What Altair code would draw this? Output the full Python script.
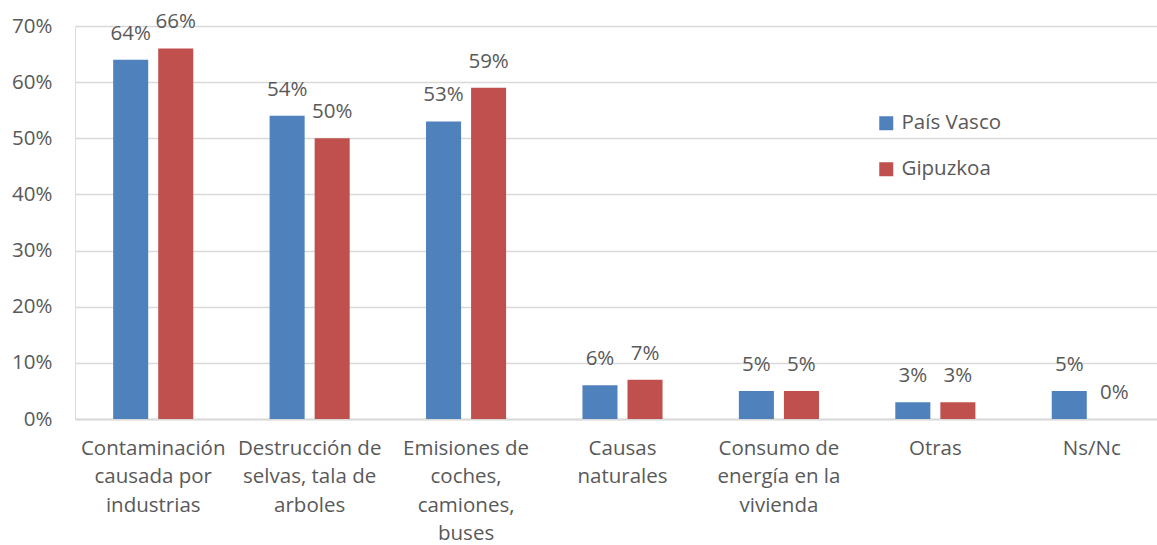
import altair as alt
import pandas as pd

categories = [
    "Contaminación\ncausada por\nindustrias",
    "Destrucción de\nselvas, tala de\narboles",
    "Emisiones de\ncoches,\ncamiones,\nbuses",
    "Causas\nnaturales",
    "Consumo de\nenergía en la\nvivienda",
    "Otras",
    "Ns/Nc",
]
series = ["País Vasco", "Gipuzkoa"]
pais_vasco = [0.64, 0.54, 0.53, 0.06, 0.05, 0.03, 0.05]
gipuzkoa = [0.66, 0.50, 0.59, 0.07, 0.05, 0.03, 0.00]
colors = ["#4F81BD", "#C0504D"]

rows = []
for i, c in enumerate(categories):
    rows.append({"cat": c, "serie": series[0], "value": pais_vasco[i]})
    rows.append({"cat": c, "serie": series[1], "value": gipuzkoa[i]})
df = pd.DataFrame(rows)

FONT = "Open Sans"
FS = 20.5
TXT = "#595959"

# category bands run slightly past the right edge of the gridlines
x = alt.X(
    "cat:N",
    sort=categories,
    title=None,
    scale=alt.Scale(range=[0, 1095], paddingInner=0.488, paddingOuter=0.244),
    axis=alt.Axis(
        labelExpr="split(datum.label, '\\n')",
        labelAngle=0,
        labelFontSize=FS,
        labelFont=FONT,
        labelColor=TXT,
        labelLineHeight=28.5,
        labelPadding=19,
        ticks=False,
        domainColor="#D9D9D9",
        domainWidth=2,
        grid=False,
        labelLimit=200,
    ),
)
xoff = alt.XOffset(
    "serie:N",
    sort=series,
    scale=alt.Scale(paddingInner=0.222, paddingOuter=0),
)
y = alt.Y(
    "value:Q",
    title=None,
    scale=alt.Scale(domain=[0, 0.7], nice=False),
    axis=alt.Axis(
        values=[0, 0.1, 0.2, 0.3, 0.4, 0.5, 0.6, 0.7],
        format=".0%",
        labelFontSize=FS,
        labelFont=FONT,
        labelColor=TXT,
        labelPadding=23,
        ticks=False,
        domain=False,
        gridColor="#D9D9D9",
        gridWidth=1.5,
    ),
)
color = alt.Color(
    "serie:N",
    sort=series,
    scale=alt.Scale(domain=series, range=colors),
    legend=alt.Legend(
        title=None,
        orient="none",
        legendX=801,
        legendY=87,
        symbolType="square",
        symbolSize=196,
        symbolStrokeWidth=0,
        labelFontSize=FS,
        labelFont=FONT,
        labelColor=TXT,
        rowPadding=25,
        labelOffset=5,
    ),
)

bars = alt.Chart(df).mark_bar().encode(x=x, xOffset=xoff, y=y, color=color)
labels = alt.Chart(df).mark_text(
    dy=-26, fontSize=FS, font=FONT, color=TXT
).encode(
    x=x, xOffset=xoff, y=y, text=alt.Text("value:Q", format=".0%")
)

chart = (
    alt.layer(bars, labels)
    .properties(
        width=1082,
        height=393,
        autosize=alt.AutoSizeParams(type="none"),
        padding={"left": 75, "top": 26, "right": 0, "bottom": 126},
    )
    .configure_view(stroke=None)
    .configure(background="white")
)

chart.save("out.html", embed_options={"renderer": "svg", "actions": False})
